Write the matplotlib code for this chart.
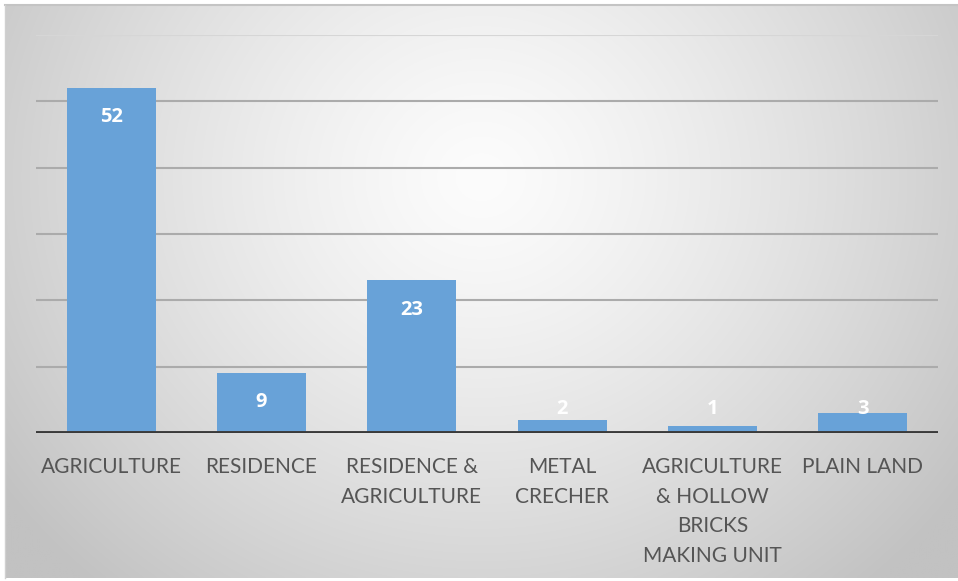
import numpy as np
import matplotlib
matplotlib.use("Agg")
import matplotlib.pyplot as plt

categories = ["AGRICULTURE", "RESIDENCE", "RESIDENCE &\nAGRICULTURE",
              "METAL\nCRECHER", "AGRICULTURE\n& HOLLOW\nBRICKS\nMAKING UNIT",
              "PLAIN LAND"]
values = [52, 9, 23, 2, 1, 3]
grid_ticks = [10, 20, 30, 40, 50, 60]

W, H = 958, 581
fig = plt.figure(figsize=(W / 100, H / 100), dpi=100)
fig.patch.set_facecolor("white")

# background gradient (chart area)
bg = fig.add_axes([5 / W, 3 / H, 953 / W, 573 / H])
ny, nx = 300, 500
yy, xx = np.mgrid[0:1:ny * 1j, 0:1:nx * 1j]
r = np.sqrt(((xx - 0.5) / 0.62) ** 2 + ((yy - 0.30) / 0.95) ** 2)
r = np.clip(r, 0, 1)
val = 252 - 58 * r ** 1.3
img = np.dstack([val, val, val]) / 255.0
bg.imshow(img, aspect="auto", extent=[0, 1, 0, 1], origin="upper", interpolation="bilinear")
bg.set_xlim(0, 1)
bg.set_ylim(0, 1)
bg.axis("off")
bg.plot([0, 1], [1, 1], color="#c4c4c4", lw=1.5, transform=bg.transAxes, clip_on=False)
bg.plot([0, 0], [0, 1], color="#d0d0d0", lw=1.0, transform=bg.transAxes, clip_on=False)

ax = fig.add_axes([36 / W, (H - 433) / H, 902 / W, 398 / H])
ax.patch.set_alpha(0)
x = np.arange(len(categories))
ax.bar(x, values, width=0.59, color="#68A2D8", zorder=3)
ax.set_xlim(-0.5, len(categories) - 0.5)
ax.set_ylim(0, 60)

for t in grid_ticks:
    c = "#d6d6d6" if t == grid_ticks[-1] else "#ababab"
    ax.axhline(t, color=c, lw=1.5, zorder=1)
ax.axhline(0, color="#3a3a3a", lw=2.8, zorder=4)

for s in ax.spines.values():
    s.set_visible(False)
ax.set_yticks([])
ax.set_xticks(x)
ax.set_xticklabels(categories, fontsize=15, color="#555555", family="Lato",
                   linespacing=1.62)
ax.tick_params(axis="x", length=0, pad=17)

for xi, v in zip(x, values):
    ax.text(xi, max(v - 4.4, 3.6), str(v), ha="center", va="center",
            color="white", fontsize=14.5, fontweight="bold", family="Open Sans", zorder=5)

fig.savefig("out.png", dpi=100)
